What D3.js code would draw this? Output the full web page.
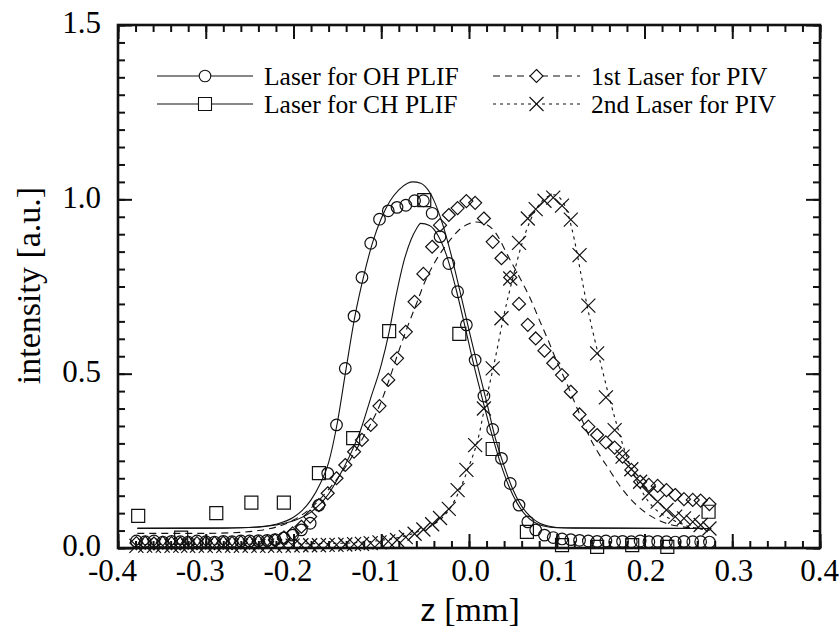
<!DOCTYPE html>
<html>
<head>
<meta charset="utf-8">
<script src="https://cdn.jsdelivr.net/npm/d3@7"></script>
<style>
  body { margin: 0; background: #fff; }
  svg { display: block; }
  .serif { font-family: "Liberation Serif", "Times New Roman", Times, "Nimbus Roman", "DejaVu Serif", serif; fill: #000; }
  .sans { font-family: "Liberation Sans", Arial, "DejaVu Sans", sans-serif; }
</style>
</head>
<body>
<svg id="chart" width="839" height="632"></svg>
<script>
// ---- measurement positions along z [mm] (shared by the dense scans) ----
const zGrid = [
  -0.379, -0.369, -0.359, -0.349, -0.339, -0.329, -0.320, -0.310, -0.300, -0.290,
  -0.280, -0.270, -0.260, -0.250, -0.240, -0.230, -0.221, -0.211, -0.201, -0.191,
  -0.181, -0.171, -0.161, -0.151, -0.141, -0.131, -0.122, -0.112, -0.102, -0.092,
  -0.082, -0.072, -0.062, -0.052, -0.042, -0.033, -0.023, -0.013, -0.003, 0.007,
  0.017, 0.027, 0.037, 0.047, 0.057, 0.067, 0.076, 0.086, 0.096, 0.106,
  0.116, 0.126, 0.136, 0.146, 0.156, 0.166, 0.175, 0.185, 0.195, 0.205,
  0.215, 0.225, 0.235, 0.245, 0.255, 0.264, 0.274
];

// Laser for OH PLIF (circles)
const ohValues = [
  0.020, 0.018, 0.020, 0.017, 0.019, 0.018, 0.017, 0.020, 0.018, 0.017,
  0.019, 0.018, 0.020, 0.020, 0.021, 0.022, 0.024, 0.029, 0.037, 0.052,
  0.071, 0.123, 0.214, 0.353, 0.515, 0.665, 0.776, 0.874, 0.943, 0.967,
  0.977, 0.983, 0.996, 0.996, 0.960, 0.893, 0.816, 0.735, 0.640, 0.539,
  0.436, 0.340, 0.257, 0.185, 0.123, 0.075, 0.052, 0.037, 0.030, 0.026,
  0.024, 0.022, 0.020, 0.019, 0.020, 0.018, 0.019, 0.018, 0.020, 0.018,
  0.019, 0.018, 0.017, 0.019, 0.018, 0.018, 0.017
];

// 1st Laser for PIV (diamonds)
const piv1Values = [
  0.014, 0.015, 0.013, 0.015, 0.014, 0.013, 0.015, 0.014, 0.015, 0.014,
  0.015, 0.014, 0.016, 0.015, 0.017, 0.018, 0.022, 0.030, 0.042, 0.061,
  0.090, 0.123, 0.157, 0.200, 0.238, 0.276, 0.310, 0.353, 0.407, 0.482,
  0.544, 0.620, 0.706, 0.786, 0.864, 0.926, 0.955, 0.975, 0.995, 0.990,
  0.945, 0.878, 0.831, 0.776, 0.700, 0.640, 0.601, 0.566, 0.530, 0.496,
  0.448, 0.383, 0.348, 0.324, 0.303, 0.288, 0.262, 0.224, 0.190, 0.181,
  0.178, 0.166, 0.152, 0.140, 0.138, 0.136, 0.126
];

// 2nd Laser for PIV (crosses)
const piv2Values = [
  0.006, 0.007, 0.006, 0.007, 0.006, 0.007, 0.006, 0.007, 0.006, 0.007,
  0.006, 0.007, 0.006, 0.007, 0.006, 0.007, 0.006, 0.007, 0.007, 0.008,
  0.008, 0.008, 0.009, 0.009, 0.010, 0.011, 0.012, 0.014, 0.016, 0.019,
  0.023, 0.031, 0.041, 0.053, 0.068, 0.086, 0.112, 0.166, 0.224, 0.295,
  0.400, 0.515, 0.659, 0.773, 0.875, 0.945, 0.972, 0.996, 1.005, 0.982,
  0.942, 0.840, 0.695, 0.558, 0.432, 0.338, 0.262, 0.226, 0.190, 0.157,
  0.133, 0.109, 0.090, 0.085, 0.075, 0.066, 0.056
];

// Laser for CH PLIF (squares, coarser scan)
const chZ = [-0.377, -0.328, -0.288, -0.248, -0.211, -0.171, -0.132, -0.091, -0.051,
             -0.011, 0.027, 0.066, 0.106, 0.146, 0.186, 0.226, 0.273];
const chValues = [0.092, 0.030, 0.100, 0.130, 0.130, 0.215, 0.315, 0.622, 0.998,
                  0.614, 0.284, 0.046, 0.008, 0.003, 0.008, 0.003, 0.104];

// ---- fitted profiles ----
const ohFitZ = [-0.378, -0.30, -0.26, -0.24, -0.22, -0.20, -0.19, -0.18, -0.17, -0.16,
  -0.15, -0.14, -0.13, -0.12, -0.11, -0.10, -0.09, -0.08, -0.07, -0.064,
  -0.055, -0.05, -0.04, -0.03, -0.02, -0.01, 0.00, 0.01, 0.02, 0.03,
  0.04, 0.05, 0.06, 0.07, 0.08, 0.09, 0.10, 0.12, 0.276];
const ohFitV = [0.057, 0.057, 0.058, 0.061, 0.068, 0.088, 0.108, 0.138, 0.182, 0.245,
  0.360, 0.515, 0.665, 0.780, 0.875, 0.945, 0.995, 1.027, 1.046, 1.050,
  1.046, 1.037, 0.997, 0.928, 0.838, 0.733, 0.625, 0.520, 0.420, 0.315,
  0.235, 0.168, 0.120, 0.090, 0.072, 0.063, 0.059, 0.057, 0.056];

const chFitZ = [-0.378, -0.28, -0.24, -0.22, -0.20, -0.18, -0.16, -0.146, -0.134, -0.123,
  -0.112, -0.10, -0.091, -0.083, -0.075, -0.066, -0.06, -0.055, -0.045, -0.035,
  -0.025, -0.015, -0.005, 0.005, 0.015, 0.025, 0.035, 0.045, 0.055, 0.065,
  0.075, 0.085, 0.10, 0.276];
const chFitV = [0.056, 0.057, 0.060, 0.066, 0.078, 0.103, 0.155, 0.215, 0.275, 0.342,
  0.430, 0.525, 0.620, 0.725, 0.815, 0.885, 0.915, 0.931, 0.925, 0.895,
  0.835, 0.745, 0.640, 0.530, 0.430, 0.335, 0.250, 0.180, 0.128, 0.093,
  0.073, 0.063, 0.058, 0.056];

const piv1FitZ = [-0.378, -0.30, -0.26, -0.24, -0.22, -0.20, -0.18, -0.16, -0.14, -0.12,
  -0.10, -0.09, -0.08, -0.07, -0.06, -0.05, -0.04, -0.03, -0.02, -0.01,
  0.00, 0.008, 0.02, 0.03, 0.045, 0.06, 0.07, 0.08, 0.09, 0.10,
  0.11, 0.125, 0.14, 0.15, 0.16, 0.17, 0.185, 0.20, 0.22, 0.24,
  0.26, 0.276];
const piv1FitV = [0.042, 0.042, 0.045, 0.050, 0.060, 0.080, 0.115, 0.168, 0.235, 0.320,
  0.420, 0.490, 0.565, 0.635, 0.700, 0.765, 0.815, 0.855, 0.888, 0.915,
  0.930, 0.935, 0.928, 0.905, 0.835, 0.765, 0.715, 0.655, 0.597, 0.535,
  0.480, 0.390, 0.305, 0.262, 0.224, 0.185, 0.138, 0.104, 0.075, 0.062,
  0.057, 0.055];

const piv2FitZ = [-0.378, -0.20, -0.14, -0.12, -0.10, -0.08, -0.06, -0.04, -0.03, -0.02,
  -0.01, 0.00, 0.01, 0.02, 0.03, 0.04, 0.05, 0.06, 0.07, 0.08,
  0.09, 0.097, 0.105, 0.1125, 0.12, 0.128, 0.135, 0.143, 0.152, 0.16,
  0.17, 0.18, 0.19, 0.20, 0.21, 0.22, 0.235, 0.25, 0.265, 0.276];
const piv2FitV = [0.010, 0.012, 0.014, 0.017, 0.022, 0.030, 0.045, 0.068, 0.088, 0.120,
  0.170, 0.235, 0.310, 0.430, 0.545, 0.670, 0.775, 0.870, 0.940, 0.985,
  1.008, 1.013, 1.000, 0.960, 0.885, 0.780, 0.690, 0.600, 0.510, 0.430,
  0.340, 0.260, 0.200, 0.150, 0.117, 0.097, 0.077, 0.062, 0.054, 0.050];

// ---- axes ----
const xMajorTicks = [-0.4, -0.3, -0.2, -0.1, 0.0, 0.1, 0.2, 0.3, 0.4];
const yMajorTicks = [0.0, 0.5, 1.0, 1.5];
const legendLabels = ["Laser for OH PLIF", "Laser for CH PLIF", "1st Laser for PIV", "2nd Laser for PIV"];

const svg = d3.select("#chart");
const plotLeft = 118, plotRight = 820, plotTop = 25, plotBottom = 548;

const x = d3.scaleLinear().domain([-0.4, 0.4]).range([plotLeft, plotRight]);
const y = d3.scaleLinear().domain([0, 1.5]).range([plotBottom, plotTop]);

const ink = "#111";
const fmt = d => d3.format(".1f")(d).replace("\u2212", "-");

function styleAxis(g) {
  g.attr("font-family", null).attr("font-size", null);
  g.select(".domain").remove();
  g.selectAll(".tick line").attr("stroke", ink).attr("stroke-width", 2);
  g.selectAll("text").attr("class", "serif").attr("fill", "#000").attr("font-size", 31);
}

const xMinor = x.ticks(40);
const yMinor = y.ticks(30);

// bottom
svg.append("g").attr("transform", `translate(0,${plotBottom})`)
  .call(d3.axisBottom(x).tickValues(xMinor).tickSize(-7).tickFormat(""))
  .call(styleAxis);
svg.append("g").attr("transform", `translate(0,${plotBottom})`)
  .call(d3.axisBottom(x).tickValues(xMajorTicks).tickSize(-14).tickPadding(11).tickFormat(fmt))
  .call(styleAxis)
  .call(g => g.selectAll("text").attr("dx", d => d < 0 ? -6 : (d > 0.35 ? -1 : 1)));
// top
svg.append("g").attr("transform", `translate(0,${plotTop})`)
  .call(d3.axisTop(x).tickValues(xMinor).tickSize(-7).tickFormat(""))
  .call(styleAxis);
svg.append("g").attr("transform", `translate(0,${plotTop})`)
  .call(d3.axisTop(x).tickValues(xMajorTicks).tickSize(-14).tickFormat(""))
  .call(styleAxis);
// left
svg.append("g").attr("transform", `translate(${plotLeft},0)`)
  .call(d3.axisLeft(y).tickValues(yMinor).tickSize(-7).tickFormat(""))
  .call(styleAxis);
svg.append("g").attr("transform", `translate(${plotLeft},0)`)
  .call(d3.axisLeft(y).tickValues(yMajorTicks).tickSize(-14).tickPadding(17).tickFormat(fmt))
  .call(styleAxis)
  .call(g => g.selectAll("text").attr("dy", "0.25em"));
// right
svg.append("g").attr("transform", `translate(${plotRight},0)`)
  .call(d3.axisRight(y).tickValues(yMinor).tickSize(-7).tickFormat(""))
  .call(styleAxis);
svg.append("g").attr("transform", `translate(${plotRight},0)`)
  .call(d3.axisRight(y).tickValues(yMajorTicks).tickSize(-14).tickFormat(""))
  .call(styleAxis);

// frame
svg.append("rect")
  .attr("x", plotLeft).attr("y", plotTop)
  .attr("width", plotRight - plotLeft).attr("height", plotBottom - plotTop)
  .attr("fill", "none").attr("stroke", ink).attr("stroke-width", 2.6);

// axis titles
svg.append("text")
  .attr("class", "serif")
  .attr("x", (plotLeft + plotRight) / 2 + 1).attr("y", 621)
  .attr("text-anchor", "middle").attr("font-size", 34)
  .call(t => {
    t.append("tspan").attr("class", "sans").attr("font-size", 31).text("z");
    t.append("tspan").text(" [mm]");
  });
svg.append("text")
  .attr("class", "serif")
  .attr("transform", `translate(40,${(plotTop + plotBottom) / 2 - 1}) rotate(-90)`)
  .attr("text-anchor", "middle").attr("font-size", 34)
  .text("intensity [a.u.]");

// ---- fitted lines ----
const line = d3.line()
  .x(d => x(d[0])).y(d => y(d[1]))
  .curve(d3.curveMonotoneX);

const fits = [
  { z: ohFitZ, v: ohFitV, dash: null },
  { z: chFitZ, v: chFitV, dash: null },
  { z: piv1FitZ, v: piv1FitV, dash: "7,5" },
  { z: piv2FitZ, v: piv2FitV, dash: "3,4" }
];
svg.append("g").selectAll("path")
  .data(fits).join("path")
  .attr("d", f => line(d3.zip(f.z, f.v)))
  .attr("fill", "none").attr("stroke", ink).attr("stroke-width", 1.1)
  .attr("stroke-dasharray", f => f.dash);

// ---- markers ----
const circleShape = "M5.8,0A5.8,5.8,0,1,1,-5.8,0A5.8,5.8,0,1,1,5.8,0Z";
const squareShape = "M-6.5,-6.5H6.5V6.5H-6.5Z";
const diamondShape = "M0,-6.5L6.5,0L0,6.5L-6.5,0Z";
const crossShape = "M-7,-7L7,7M-7,7L7,-7";

function drawMarkers(zs, vs, shape) {
  svg.append("g").selectAll("path")
    .data(d3.zip(zs, vs)).join("path")
    .attr("transform", d => `translate(${x(d[0])},${y(d[1])})`)
    .attr("d", shape)
    .attr("fill", "none").attr("stroke", ink).attr("stroke-width", 1.2);
}
drawMarkers(zGrid, piv2Values, crossShape);
drawMarkers(zGrid, piv1Values, diamondShape);
drawMarkers(zGrid, ohValues, circleShape);
drawMarkers(chZ, chValues, squareShape);

// ---- legend ----
const legendItems = [
  { label: legendLabels[0], x0: 157, x1: 253, y: 76, dash: null, shape: circleShape },
  { label: legendLabels[1], x0: 157, x1: 253, y: 104, dash: null, shape: squareShape },
  { label: legendLabels[2], x0: 493, x1: 580, y: 76, dash: "7,5", shape: diamondShape },
  { label: legendLabels[3], x0: 493, x1: 580, y: 104, dash: "3,4", shape: crossShape }
];
const lg = svg.append("g").selectAll("g").data(legendItems).join("g");
lg.append("line")
  .attr("x1", d => d.x0).attr("x2", d => d.x1)
  .attr("y1", d => d.y).attr("y2", d => d.y)
  .attr("stroke", ink).attr("stroke-width", 1.1)
  .attr("stroke-dasharray", d => d.dash);
lg.append("path")
  .attr("transform", d => `translate(${(d.x0 + d.x1) / 2},${d.y})`)
  .attr("d", d => d.shape)
  .attr("fill", "#fff").attr("stroke", ink).attr("stroke-width", 1.1);
lg.append("text")
  .attr("class", "serif")
  .attr("x", d => d.x1 + 11).attr("y", d => d.y)
  .attr("dy", "0.35em").attr("font-size", 25.5)
  .text(d => d.label);
</script>
</body>
</html>
